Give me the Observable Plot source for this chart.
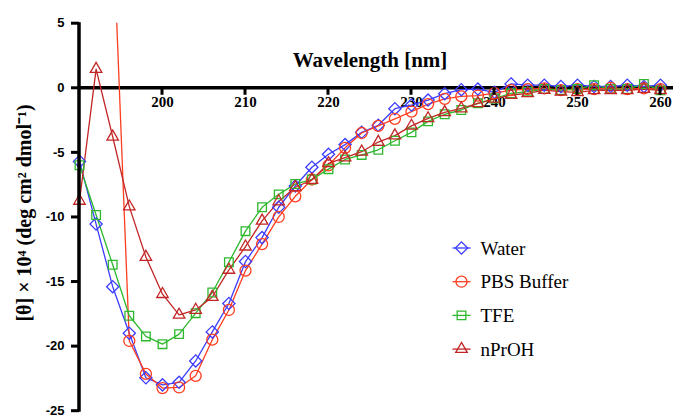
<!DOCTYPE html>
<html>
<head>
<meta charset="utf-8">
<script src="https://cdn.jsdelivr.net/npm/d3@7"></script>
<script src="https://cdn.jsdelivr.net/npm/@observablehq/plot@0.6"></script>
<style>
  html, body { margin: 0; padding: 0; background: #fff; }
  #chart svg { display: block; }
</style>
</head>
<body>
<div id="chart"></div>
<script>
// ---- data ----
const wavelength = [190,192,194,196,198,200,202,204,206,208,210,212,214,216,218,220,222,224,226,228,230,232,234,236,238,240,242,244,246,248,250,252,254,256,258,260];
const water = [-5.7,-10.55,-15.4,-19.0,-22.45,-23.0,-22.8,-21.15,-18.9,-16.7,-13.45,-11.6,-9.25,-7.6,-6.15,-5.15,-4.4,-3.45,-2.9,-1.62,-1.34,-0.95,-0.46,-0.15,-0.1,-0.35,0.3,0.2,0.2,0.1,0.2,0.1,0.1,0.2,0.1,0.2];
const pbs = [null,null,13,-19.6,-22.15,-23.25,-23.2,-22.3,-19.5,-17.2,-14.15,-12.1,-10.0,-8.4,-7.1,-6.0,-4.65,-3.5,-2.95,-2.4,-1.85,-1.26,-0.86,-0.67,-0.6,-0.42,-0.18,-0.1,-0.05,-0.18,-0.1,-0.1,0,-0.1,-0.05,-0.1];
const tfe = [-6.0,-9.85,-13.7,-17.65,-19.25,-19.85,-19.07,-17.45,-15.85,-13.5,-11.1,-9.25,-8.25,-7.45,-7.1,-6.3,-5.55,-5.2,-4.8,-4.1,-3.45,-2.6,-2.05,-1.72,-1.2,-0.83,-0.43,-0.3,-0.1,-0.18,-0.1,0.2,-0.1,-0.1,0.3,-0.2];
const nprOH = [-8.76,1.45,-3.79,-9.2,-13.1,-15.98,-17.58,-17.2,-16.2,-14.1,-12.3,-10.3,-8.8,-7.7,-7.14,-5.85,-5.4,-4.95,-4.2,-3.7,-2.95,-2.37,-1.9,-1.6,-1.2,-0.85,-0.56,-0.43,-0.18,-0.3,-0.35,-0.2,-0.2,-0.2,-0.1,-0.2];

const seriesNames = ["Water","PBS Buffer","TFE","nPrOH"];
const seriesValues = [water, pbs, tfe, nprOH];
const seriesColors = ["#3c3cff","#ff3d1f","#2eb82e","#c22525"];
const seriesSymbols = ["diamond2","circle","square2","triangle2"];

const xTicks = [200,210,220,230,240,250,260];
const yTicks = [-25,-20,-15,-10,-5,0,5];
const xLabel = "Wavelength [nm]";
const yLabel = "[\u03b8] \u00d7 10\u2074 (deg cm\u00b2 dmol\u207b\u00b9)";

// ---- long table ----
const rows = [];
seriesNames.forEach((s, k) => {
  wavelength.forEach((w, i) => rows.push({series: s, wl: w, v: seriesValues[k][i]}));
});
const xDomain = [190, 260];
const yDomain = [-25, 5];
const dotRows = rows.filter(d => d.v != null && d.v <= yDomain[1]);

const serif = "'Liberation Serif', 'Times New Roman', serif";
const sans = "'Liberation Sans', Arial, sans-serif";

const chart = Plot.plot({
  width: 673,
  height: 417,
  marginLeft: 79,
  marginRight: 13,
  marginTop: 22.7,
  marginBottom: 6.8,
  style: {background: "#fff", overflow: "visible"},
  x: {domain: xDomain, axis: null},
  y: {domain: yDomain, axis: null},
  color: {domain: seriesNames, range: seriesColors},
  symbol: {domain: seriesNames, range: seriesSymbols},
  marks: [
    // y axis ticks and labels
    Plot.ruleY(yTicks, {y: d => d, x1: xDomain[0], x2: xDomain[0], insetLeft: -8, stroke: "#000", strokeWidth: 3}),
    Plot.text(yTicks, {y: d => d, frameAnchor: "left", text: d => String(d), textAnchor: "end", dx: -15,
      fontSize: 13, fontWeight: "bold", fontFamily: sans, fill: "#000"}),
    // x axis at y = 0
    Plot.ruleY([0], {stroke: "#000", strokeWidth: 3.5, insetRight: -13}),
    Plot.text(xTicks, {x: d => d, y: 0, text: d => String(d), lineAnchor: "top", dy: 9,
      fontSize: 15, fontWeight: "bold", fontFamily: serif, fill: "#000"}),
    Plot.text([0], {y: d => d, text: () => xLabel, dy: -28, fontSize: 21, fontWeight: "bold", fontFamily: serif, fill: "#000"}),
    Plot.text([yLabel], {frameAnchor: "left", text: d => d, rotate: -90, textAnchor: "middle", dx: -55, dy: -4,
      fontSize: 20, fontWeight: "bold", fontFamily: serif, fill: "#000"}),
    // data
    Plot.line(rows, {x: "wl", y: "v", z: "series", stroke: "series", strokeWidth: 1.3, clip: true}),
    Plot.dot(dotRows, {x: "wl", y: "v", stroke: "series", symbol: "series", r: 5.5, strokeWidth: 1.3, fill: "none"})
  ]
});

document.getElementById("chart").appendChild(chart);

const svg = d3.select(chart);
const xs = chart.scale("x"), ys = chart.scale("y");

// y-axis line and x-axis ticks as filled bars, positioned through the plot's own scales
const ax = svg.append("g").attr("fill", "#000").attr("stroke", "none");
const x0 = xs.apply(xDomain[0]);
const yTop = ys.apply(yDomain[1]), yBot = ys.apply(yDomain[0]);
ax.append("rect")
  .attr("x", x0 - 1.75).attr("width", 3.5)
  .attr("y", yTop - 0.5).attr("height", yBot - yTop + 2);
xTicks.forEach(t => {
  ax.append("rect")
    .attr("x", xs.apply(t) - 1.5).attr("width", 3)
    .attr("y", ys.apply(0)).attr("height", 7.5);
});

// ---- legend (inside the plot area) ----
const lg = svg.append("g").attr("transform", "translate(461.5,248)");
const d3Symbols = {diamond2: d3.symbolDiamond2, circle: d3.symbolCircle, square2: d3.symbolSquare2, triangle2: d3.symbolTriangle2};
seriesNames.forEach((s, i) => {
  const row = lg.append("g").attr("transform", `translate(0,${i * 33.7})`);
  row.append("line").attr("x1", -9).attr("x2", 9).attr("y1", 0).attr("y2", 0)
    .attr("stroke", seriesColors[i]).attr("stroke-width", 1.3);
  row.append("path").attr("d", d3.symbol(d3Symbols[seriesSymbols[i]], Math.PI * 5.5 * 5.5)())
    .attr("fill", "none").attr("stroke", seriesColors[i]).attr("stroke-width", 1.3);
  row.append("text").attr("x", 19).attr("y", 0).attr("dy", "0.35em").attr("text-anchor", "start")
    .attr("font-family", serif).attr("font-size", 19).attr("fill", "#000").text(s);
});
</script>
</body>
</html>
